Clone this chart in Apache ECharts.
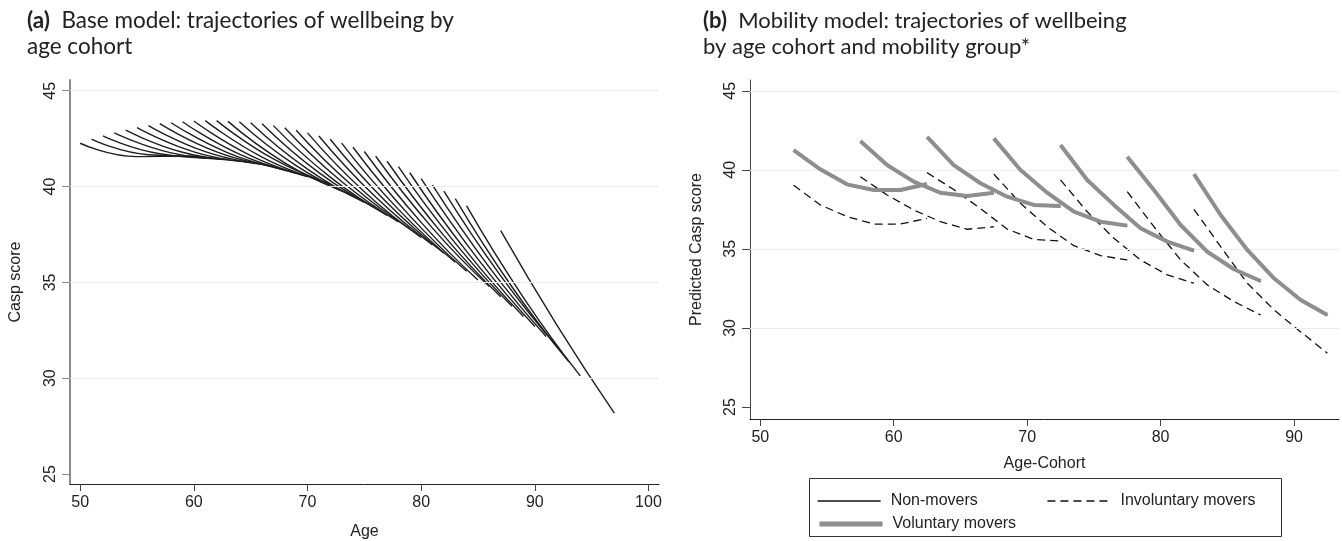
<!DOCTYPE html>
<html><head><meta charset="utf-8">
<script src="https://cdn.jsdelivr.net/npm/echarts@6/dist/echarts.min.js"></script>
<style>html,body{margin:0;padding:0;background:#fff}#c{width:1342px;height:541px}</style>
</head><body><div id="c"></div>
<script>
// ---------- Panel (a): base model, one trajectory per age cohort ----------
const cohortStartAge = [50,51,52,53,54,55,56,57,58,59,60,61,62,63,64,65,66,67,68,69,70,71,72,73,74,75,76,77,78,79,80,81,82,83,84,87];
const cohortStartVal = [42.26,42.47,42.64,42.80,42.94,43.07,43.18,43.28,43.33,43.38,43.42,43.44,43.44,43.40,43.38,43.33,43.28,43.18,43.07,42.94,42.80,42.64,42.47,42.27,42.05,41.83,41.58,41.32,41.04,40.72,40.41,40.07,39.76,39.37,38.99,37.70];
const cohortMidVal   = [41.56,41.66,41.71,41.76,41.79,41.81,41.82,41.81,41.76,41.69,41.62,41.54,41.44,41.24,41.09,40.91,40.73,40.49,40.26,40.02,39.73,39.45,39.15,38.81,38.47,38.13,37.83,37.44,37.05,36.62,36.21,35.78,35.34,34.76,34.21,32.72];
const cohortEndVal   = [41.60,41.55,41.48,41.42,41.34,41.25,41.16,41.05,40.88,40.70,40.52,40.33,40.14,39.78,39.50,39.18,38.88,38.50,38.15,37.80,37.35,36.95,36.52,36.05,35.58,35.12,34.78,34.25,33.75,33.22,32.70,32.18,31.62,30.85,30.12,28.18];
const cohortSpan = 10;

// ---------- Panel (b): mobility model ----------
const mobilityStartAge = [52.5,57.5,62.5,67.5,72.5,77.5,82.5];
const waveOffsets = [0,2,4,6,8,10];
const nonMoverVals = [
  [41.20,39.98,39.03,38.67,38.67,39.05],
  [41.77,40.25,39.20,38.50,38.29,38.50],
  [42.04,40.25,39.10,38.25,37.73,37.66],
  [41.94,39.94,38.50,37.30,36.67,36.42],
  [41.52,39.31,37.73,36.25,35.41,34.84],
  [40.78,38.67,36.46,34.77,33.66,32.92],
  [39.68,37.09,34.88,33.09,31.72,30.77]
];
const involuntaryVals = [
  [39.02,37.78,37.04,36.57,36.57,36.93],
  [39.56,38.41,37.46,36.72,36.24,36.40],
  [39.82,38.75,37.55,36.25,35.60,35.50],
  [39.73,37.88,36.40,35.20,34.57,34.30],
  [39.36,37.35,35.67,34.30,33.35,32.83],
  [38.62,36.40,34.30,32.72,31.67,30.82],
  [37.50,35.14,32.83,31.14,29.75,28.40]
];
const voluntaryVals = [
  [41.25,40.03,39.08,38.72,38.72,39.10],
  [41.82,40.30,39.25,38.55,38.34,38.55],
  [42.09,40.30,39.15,38.30,37.78,37.71],
  [41.99,39.99,38.55,37.35,36.72,36.47],
  [41.57,39.36,37.78,36.30,35.46,34.89],
  [40.83,38.72,36.51,34.82,33.71,32.97],
  [39.73,37.14,34.93,33.14,31.77,30.82]
];
const groupNames = ['Non-movers','Involuntary movers','Voluntary movers'];

// ---------- Axis ticks ----------
const ageTicksA = [50,60,70,80,90,100];
const ageTicksB = [50,60,70,80,90];
const scoreTicks = [25,30,35,40,45];
const gridValues = [30,35,40,45];

const AX_FONT = "'Liberation Sans', Arial, sans-serif";
const TITLE_FONT = "Lato, sans-serif";

function gridSeries(idx){
  return {
    type:'line', xAxisIndex:idx, yAxisIndex:idx, data:[], silent:true, z:1,
    markLine:{silent:true, symbol:'none', label:{show:false}, animation:false,
      lineStyle:{color:'#ececec', width:1.2, type:'solid'},
      data: gridValues.map(v=>({yAxis:v}))}
  };
}

const series = [gridSeries(0), gridSeries(1)];

cohortStartAge.forEach((a,i)=>{
  series.push({
    type:'line', xAxisIndex:0, yAxisIndex:0, name:'cohort'+a,
    showSymbol:false, symbol:'none', smooth:0.5, z:3, silent:true,
    lineStyle:{color:'#1e1e1e', width:1.4},
    data:[[a,cohortStartVal[i]],[a+cohortSpan/2,cohortMidVal[i]],[a+cohortSpan,cohortEndVal[i]]]
  });
});

const groupStyles = [
  {color:'#111', width:1.3, type:'solid', z:3},
  {color:'#111', width:1.3, type:[8,5], z:4},
  {color:'#8e8e8e', width:4, type:'solid', z:5}
];
const groupVals = [nonMoverVals, involuntaryVals, voluntaryVals];
groupVals.forEach((vals,g)=>{
  vals.forEach((seg,k)=>{
    const st = groupStyles[g];
    series.push({
      type:'line', xAxisIndex:1, yAxisIndex:1, name:groupNames[g],
      showSymbol:false, symbol:'none', z:st.z, silent:true,
      color: st.color,
      lineStyle:{color:st.color, width:st.width, type:st.type, cap:'butt', join:'round'},
      data: seg.map((v,j)=>[mobilityStartAge[k]+waveOffsets[j], v])
    });
  });
});

function xAxisCfg(idx,min,max,ticks,name,gap){
  return {
    type:'value', gridIndex:idx, min:min, max:max, name:name, nameLocation:'middle', nameGap:gap,
    nameTextStyle:{fontFamily:AX_FONT, fontSize:16, color:'#222'},
    axisLine:{show:true, onZero:false, lineStyle:{color:'#222', width:1}},
    axisTick:{show:true, length:7, customValues:ticks, lineStyle:{color:'#444', width:1}},
    axisLabel:{customValues:ticks, margin:11, fontFamily:AX_FONT, fontSize:16, color:'#222'},
    splitLine:{show:false}
  };
}
function yAxisCfg(idx,min,max,name,gap,axColor,axW){
  return {
    type:'value', gridIndex:idx, min:min, max:max, name:name, nameLocation:'middle', nameGap:gap,
    nameTextStyle:{fontFamily:AX_FONT, fontSize:16, color:'#222'},
    axisLine:{show:true, onZero:false, lineStyle:{color:axColor, width:axW}},
    axisTick:{show:true, length:8, customValues:scoreTicks, lineStyle:{color:axColor, width:1}},
    axisLabel:{customValues:scoreTicks, rotate:90, margin:11, fontFamily:AX_FONT, fontSize:16, color:'#222'},
    splitLine:{show:false}
  };
}

const legendCommon = {
  orient:'horizontal', itemWidth:63, itemHeight:14, selectedMode:false,
  itemStyle:{color:'rgba(0,0,0,0)', borderColor:'rgba(0,0,0,0)', borderWidth:0, opacity:0},
  textStyle:{fontFamily:AX_FONT, fontSize:16, color:'#222', padding:[0,0,0,5]}
};

const option = {
  animation:false,
  backgroundColor:'#fff',
  title:[
    {left:22, top:3, text:'{b|(a)}  Base model: trajectories of wellbeing by\nage cohort',
     textStyle:{fontFamily:TITLE_FONT, fontSize:22.5, fontWeight:'normal', color:'#222', lineHeight:26,
       rich:{b:{fontFamily:TITLE_FONT, fontSize:22.5, fontWeight:'bold', color:'#222', lineHeight:26}}}},
    {left:698, top:3, text:'{b|(b)}  Mobility model: trajectories of wellbeing\nby age cohort and mobility group*',
     textStyle:{fontFamily:TITLE_FONT, fontSize:22, fontWeight:'normal', color:'#222', lineHeight:26,
       rich:{b:{fontFamily:TITLE_FONT, fontSize:22, fontWeight:'bold', color:'#222', lineHeight:26}}}}
  ],
  grid:[
    {left:70, right:683, top:80, bottom:57, containLabel:false, outerBoundsMode:'none'},
    {left:750, right:3, top:80, bottom:122, containLabel:false, outerBoundsMode:'none'}
  ],
  xAxis:[
    xAxisCfg(0,49.1,100.93,ageTicksA,'Age',40),
    xAxisCfg(1,49.23,93.37,ageTicksB,'Age-Cohort',37)
  ],
  yAxis:[
    yAxisCfg(0,24.48,45.56,'Casp score',46,'#8a8a8a',2),
    yAxisCfg(1,24.24,45.68,'Predicted Casp score',45,'#444',1)
  ],
  legend:[
    Object.assign({data:[
        {name:'Non-movers', lineStyle:{color:'#111', width:1.3}},
        {name:'Involuntary movers', lineStyle:{color:'#111', width:1.3, type:[8,5]}}
      ], left:812, top:488, itemGap:69}, legendCommon),
    Object.assign({data:[
        {name:'Voluntary movers', lineStyle:{color:'#8e8e8e', width:5}}
      ], left:812, top:511}, legendCommon)
  ],
  graphic:[
    {type:'rect', shape:{x:809.5, y:478.5, width:472, height:58}, style:{fill:'none', stroke:'#333', lineWidth:1}, silent:true}
  ],
  series: series
};

const chart = echarts.init(document.getElementById('c'), null, {renderer:'canvas'});
chart.setOption(option);
</script>
</body></html>
